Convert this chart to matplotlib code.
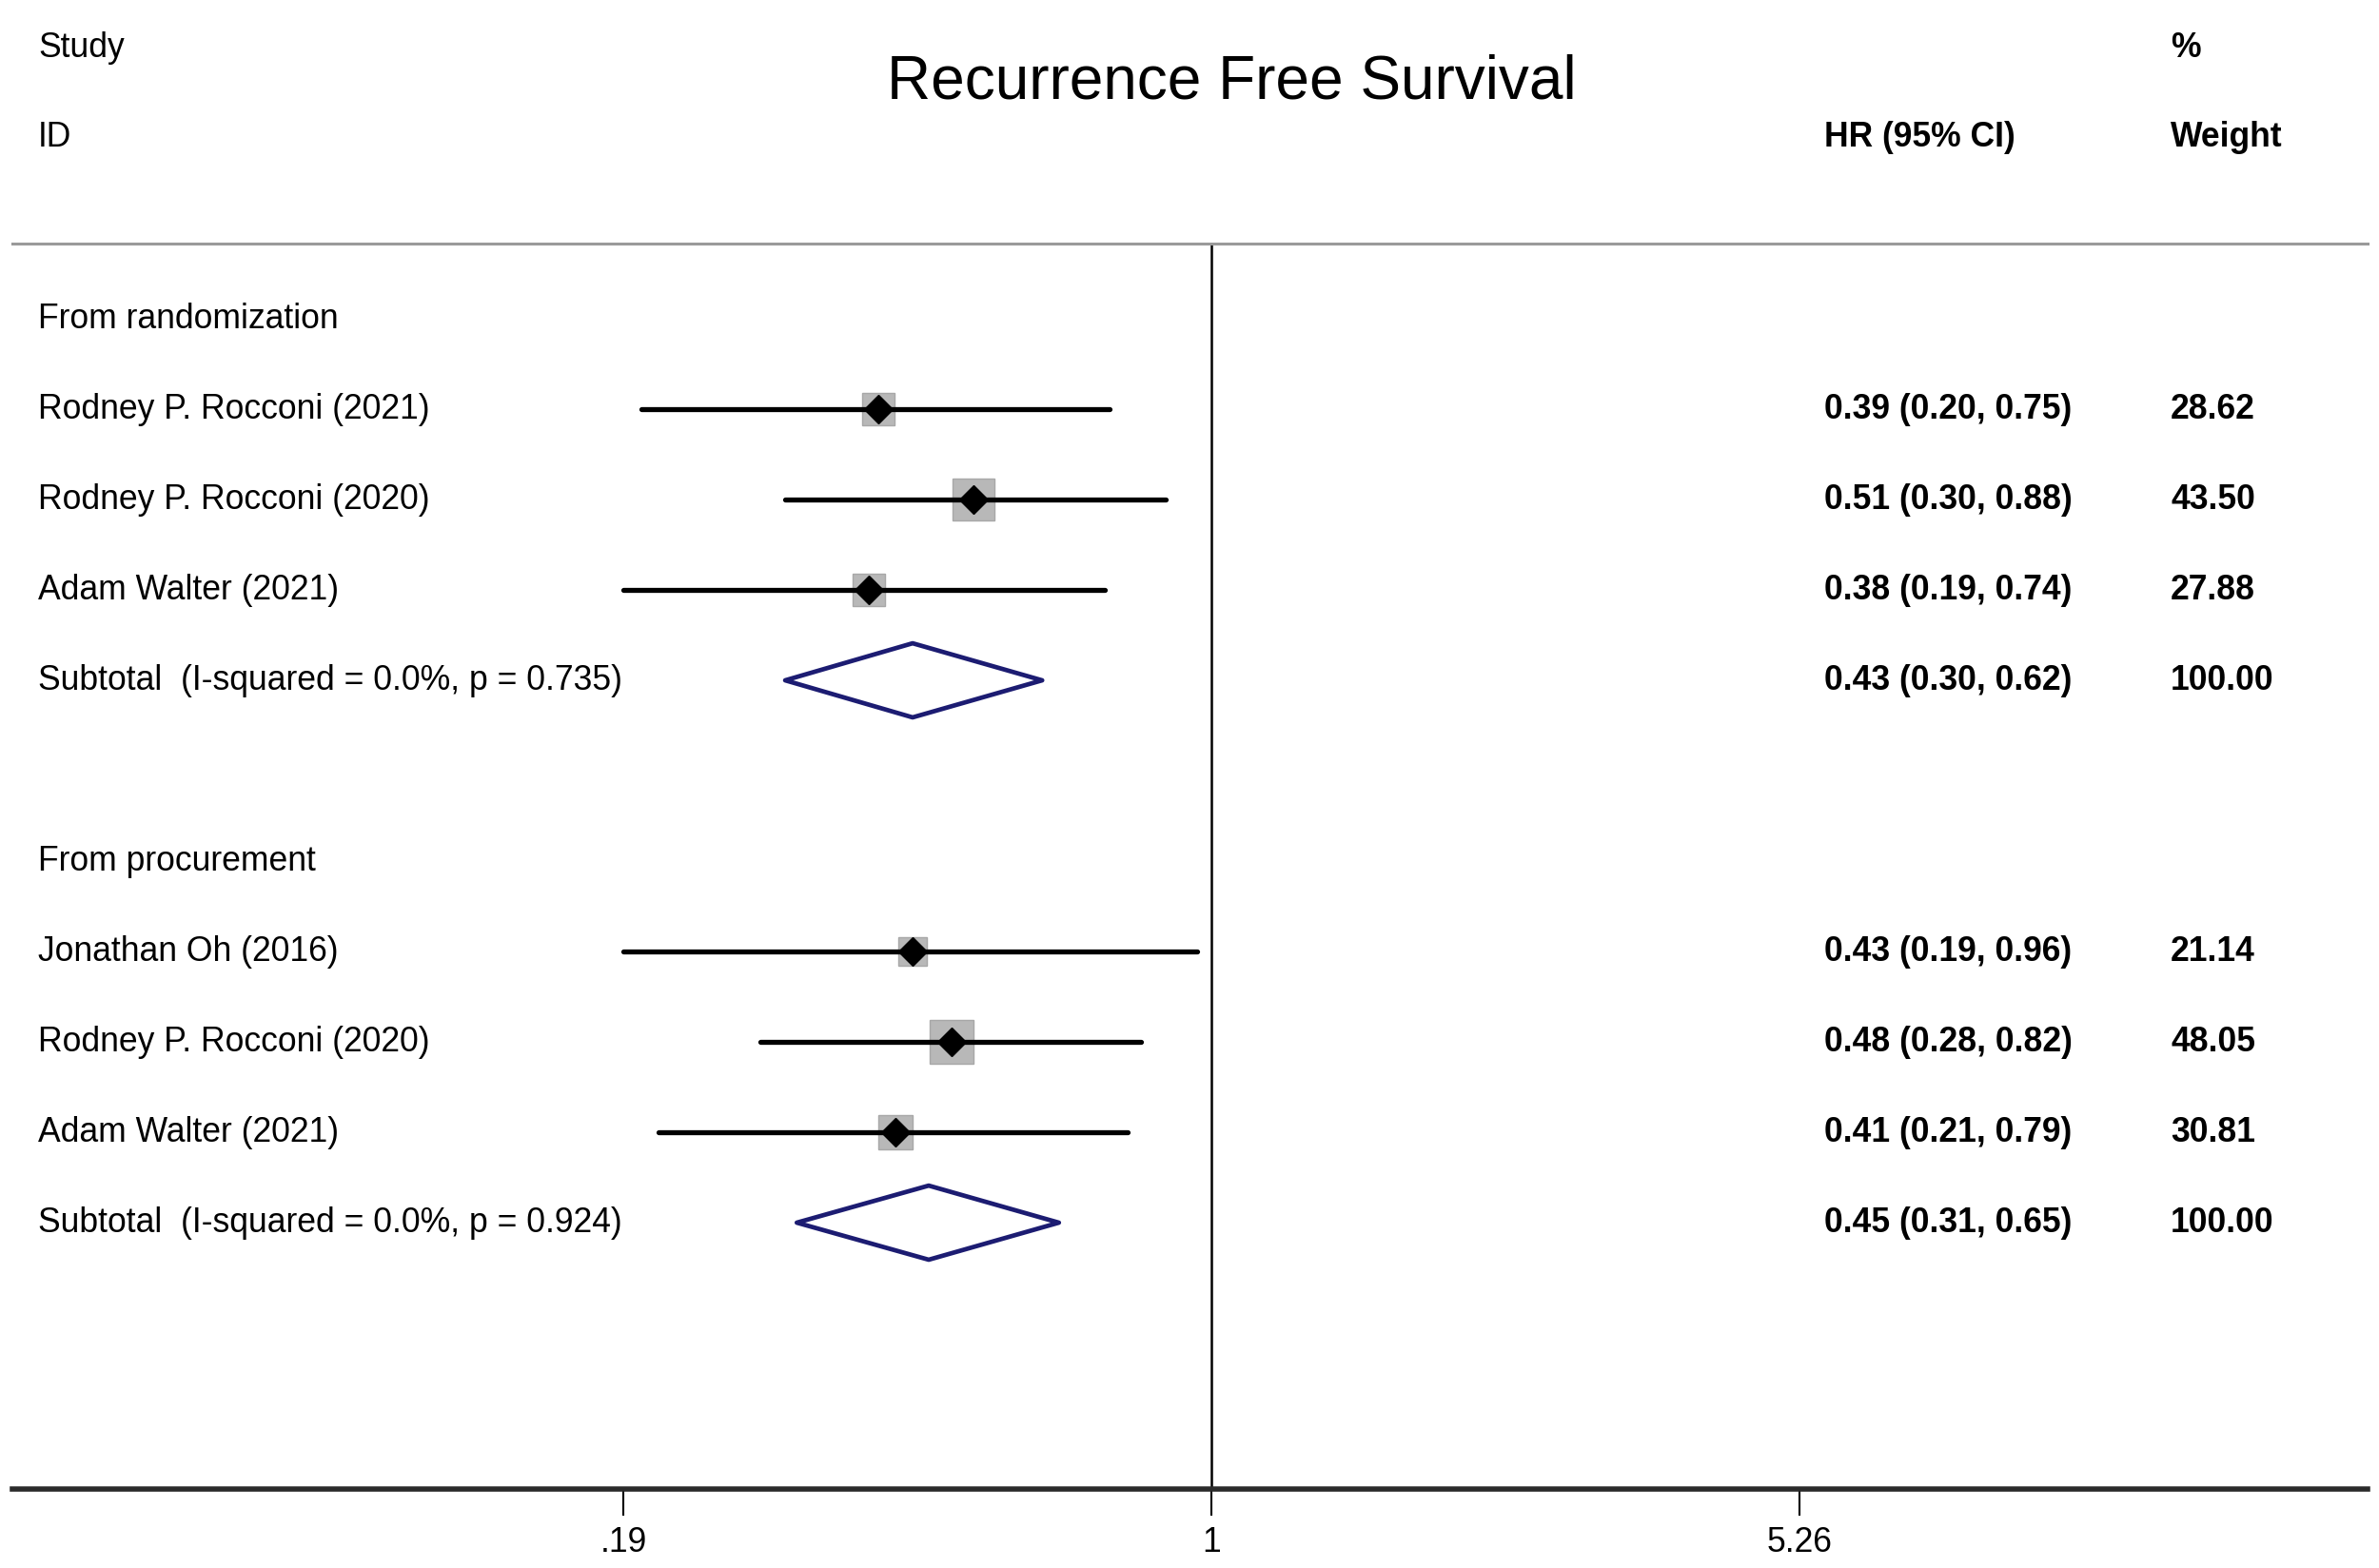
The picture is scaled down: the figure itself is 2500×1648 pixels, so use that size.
"""
Forest plot: recurrence free survival, hazard ratios by subgroup
"""

import numpy as np
import matplotlib
matplotlib.use("Agg")
import matplotlib.pyplot as plt
from matplotlib.transforms import blended_transform_factory
from matplotlib.patches import Polygon

plt.rcParams['font.family'] = ['Liberation Sans', 'DejaVu Sans']

groups = ["From randomization", "From procurement"]
studies = [
    ["Rodney P. Rocconi (2021)", "Rodney P. Rocconi (2020)", "Adam Walter (2021)"],
    ["Jonathan Oh (2016)", "Rodney P. Rocconi (2020)", "Adam Walter (2021)"],
]
hr = [[0.39, 0.51, 0.38], [0.43, 0.48, 0.41]]
ci_lo = [[0.20, 0.30, 0.19], [0.19, 0.28, 0.21]]
ci_hi = [[0.75, 0.88, 0.74], [0.96, 0.82, 0.79]]
weights = [[28.62, 43.50, 27.88], [21.14, 48.05, 30.81]]

sub_labels = ["Subtotal  (I-squared = 0.0%, p = 0.735)",
              "Subtotal  (I-squared = 0.0%, p = 0.924)"]
sub_hr = [0.43, 0.45]
sub_lo = [0.30, 0.31]
sub_hi = [0.62, 0.65]

xticks = [0.19, 1, 5.26]
xtick_labels = [".19", "1", "5.26"]

W, H = 2500, 1648
fig = plt.figure(figsize=(W / 100, H / 100), dpi=100)
ax = fig.add_axes([13 / W, (H - 1565) / H, 2475 / W, 1309 / H])
ax.set_xscale('log')
ax.set_xlim(np.exp(-3.387), np.exp(3.266))
ax.set_ylim(12.947, -0.832)

fs = 25.6
lab_tr = blended_transform_factory(fig.transFigure, ax.transData)
x_lab, x_hr, x_w = 40 / W, 1917 / W, 2281 / W

row = 0
for g in range(len(groups)):
    ax.text(x_lab, row, groups[g], transform=lab_tr, fontsize=fs,
            va='center', ha='left')
    row += 1
    for i in range(len(studies[g])):
        side = 4.7 * np.sqrt(weights[g][i])
        ax.plot(hr[g][i], row, marker='s', ms=side, color='#b8b8b8',
                mec='#a8a8a8', zorder=2)
        ax.plot([ci_lo[g][i], ci_hi[g][i]], [row, row], color='black',
                lw=3.8, solid_capstyle='round', zorder=3)
        ax.plot(hr[g][i], row, marker='D', ms=15.5, color='black', zorder=4)
        ax.text(x_lab, row, studies[g][i], transform=lab_tr, fontsize=fs,
                va='center', ha='left')
        ax.text(x_hr, row, f"{hr[g][i]:.2f} ({ci_lo[g][i]:.2f}, {ci_hi[g][i]:.2f})",
                transform=lab_tr, fontsize=fs, va='center', ha='left',
                fontweight='bold')
        ax.text(x_w, row, f"{weights[g][i]:.2f}", transform=lab_tr,
                fontsize=fs, va='center', ha='left', fontweight='bold')
        row += 1
    dia = Polygon([(sub_lo[g], row), (sub_hr[g], row - 0.41),
                   (sub_hi[g], row), (sub_hr[g], row + 0.41)],
                  closed=True, fill=False, ec='#1c1c72', lw=3.4,
                  joinstyle='round', zorder=3)
    ax.add_patch(dia)
    ax.text(x_lab, row, sub_labels[g], transform=lab_tr, fontsize=fs,
            va='center', ha='left')
    ax.text(x_hr, row, f"{sub_hr[g]:.2f} ({sub_lo[g]:.2f}, {sub_hi[g]:.2f})",
            transform=lab_tr, fontsize=fs, va='center', ha='left',
            fontweight='bold')
    ax.text(x_w, row, "100.00", transform=lab_tr, fontsize=fs,
            va='center', ha='left', fontweight='bold')
    row += 2

# line of no effect
ax.axvline(1, color='black', lw=1.8, zorder=1)

# frame: gray top rule, heavy bottom axis
for s in ['left', 'right']:
    ax.spines[s].set_visible(False)
ax.spines['top'].set_color('#9a9a9a')
ax.spines['top'].set_linewidth(2.2)
ax.spines['bottom'].set_color('#2a2a2a')
ax.spines['bottom'].set_linewidth(4)

ax.set_yticks([])
ax.set_xticks(xticks)
ax.set_xticklabels(xtick_labels)
ax.xaxis.set_minor_locator(matplotlib.ticker.NullLocator())
ax.tick_params(axis='x', direction='out', length=20, width=1.5,
               labelsize=fs, pad=8, color='black')

# header
fig.text(40 / W, 1 - 51 / H, "Study", fontsize=fs, va='center', ha='left')
fig.text(40 / W, 1 - 144 / H, "ID", fontsize=fs, va='center', ha='left')
fig.text(1294 / W, 1 - 86 / H, "Recurrence Free Survival", fontsize=46,
         va='center', ha='center')
fig.text(x_hr, 1 - 144 / H, "HR (95% CI)", fontsize=fs, va='center',
         ha='left', fontweight='bold')
fig.text(x_w, 1 - 51 / H, "%", fontsize=fs, va='center', ha='left',
         fontweight='bold')
fig.text(x_w, 1 - 144 / H, "Weight", fontsize=fs, va='center', ha='left',
         fontweight='bold')

fig.savefig("out.png", dpi=100, facecolor='white')
